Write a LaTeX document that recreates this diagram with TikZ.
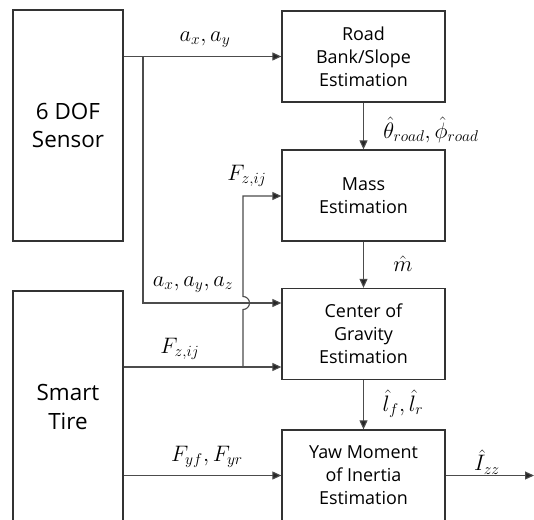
\documentclass[tikz,border=0pt]{standalone}
\usepackage{fontspec}
\setmainfont{Open Sans}
\usetikzlibrary{arrows.meta}
\begin{document}
\begin{tikzpicture}[x=1bp,y=1bp,
  box/.style={draw=black!80,line width=1.3bp,minimum width=163bp,minimum height=91bp,align=center,font=\fontsize{18}{23}\selectfont,inner sep=0pt},
  bigbox/.style={draw=black!80,line width=1.3bp,minimum width=110bp,align=center,font=\fontsize{22.5}{29}\selectfont,inner sep=0pt},
  conn/.style={draw=black!70,line width=1.1bp,-{Triangle[length=9bp,width=8bp,fill=black!85]}},
  lbl/.style={font=\fontsize{17.28}{20}\selectfont,inner sep=0pt,scale=1.3,transform shape}]
\useasboundingbox (0,0) rectangle (534,-520);
\fill[white] (0,0) rectangle (534,-520);
\begin{scope}
\clip (0,0) rectangle (534,-520);
\node[bigbox,minimum height=231bp] (sensor) at (68,-125.5) {6 DOF\\Sensor};
\node[bigbox,minimum height=232bp] (tire) at (68,-407) {Smart\\Tire};
\node[box] (road) at (363.5,-56.5) {Road\\Bank/Slope\\Estimation};
\node[box] (mass) at (363.5,-195.5) {Mass\\Estimation};
\node[box] (cog) at (363.5,-334) {Center of\\Gravity\\Estimation};
\node[box] (yaw) at (363.5,-475.5) {Yaw Moment\\of Inertia\\Estimation};

\coordinate (b1) at (143,-56.5);
\coordinate (b1d) at (143,-303);
\coordinate (cogin1) at (cog.west |- 0,-303);
\coordinate (cogin2) at (cog.west |- 0,-367);
\coordinate (tireout1) at (tire.east |- 0,-367);
\coordinate (b2) at (243,-367);
\coordinate (b2u) at (243,-196);
\coordinate (tireout2) at (tire.east |- yaw.west);
\coordinate (out) at (534,-475.5);

\draw[conn] (sensor.east |- road.west) -- (road.west);
\draw[conn] (b1) -- (b1d) -- (cogin1);
\draw[conn] (tireout1) -- (cogin2);
\draw[conn] (b2) -- (243,-309.5) arc[start angle=-90,end angle=90,radius=6.5bp] -- (b2u) -- (mass.west |- b2u);
\draw[conn] (tireout2) -- (yaw.west);
\draw[conn] (road.south) -- (mass.north);
\draw[conn] (mass.south) -- (cog.north);
\draw[conn] (cog.south) -- (yaw.north);
\draw[conn] (yaw.east) -- (out);
\end{scope}

\node[lbl] (l1) at (205,-40) {$a_x, a_y$};
\node[lbl] (l2) at (431,-130) {$\hat\theta_{road}, \hat\phi_{road}$};
\node[lbl] (l3) at (247,-176) {$F_{z,ij}$};
\node[lbl] (l4) at (403,-264) {$\hat m$};
\node[lbl] (l5) at (193,-285) {$a_x, a_y, a_z$};
\node[lbl] (l6) at (180,-349) {$F_{z,ij}$};
\node[lbl] (l7) at (403,-404) {$\hat l_f, \hat l_r$};
\node[lbl] (l8) at (207,-457) {$F_{yf}, F_{yr}$};
\node[lbl] (l9) at (487,-462) {$\hat I_{zz}$};
\end{tikzpicture}
\end{document}
